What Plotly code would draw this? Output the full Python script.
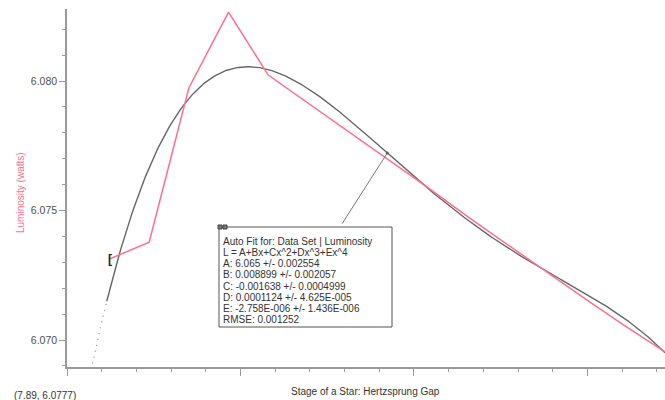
import numpy as np
import plotly.graph_objects as go

# Data set: luminosity at each stage step
stage = [1, 2, 3, 4, 5, 6, 7, 8, 9, 10, 11, 12, 13, 14, 15]
luminosity = [6.07313, 6.07378, 6.07973, 6.08266, 6.08023, 6.07915, 6.07807,
              6.07699, 6.07591, 6.07479, 6.07371, 6.07266, 6.07158, 6.07054,
              6.06954]

# Quartic auto fit  L = A + Bx + Cx^2 + Dx^3 + Ex^4
coef_names = ["A", "B", "C", "D", "E"]
coef_values = [6.06455, 0.008899, -0.00163751, 0.000112449, -2.75751e-6]
coef_errors = [0.002554, 0.002057, 0.0004999, 4.625e-5, 1.436e-6]
rmse = 0.001252
fit_range_start = 0.93
leader_x = 8.0
cursor_readout = (7.89, 6.0777)

x_title = "Stage of a Star: Hertzsprung Gap"
y_title = "Luminosity (watts)"

RED = "#ff6f8c"
FIT = "#666666"
AXIS = "#9a9a9a"
TEXT = "#333333"
FONT = "Liberation Sans, Arial, sans-serif"

# page geometry
W, H = 665, 400
ML, MR, MT, MB = 67, 0, 9, 33
PW, PH = W - ML - MR, H - MT - MB


def px_x(p):
    return (p - ML) / PW


def px_y(p):
    return (H - MB - p) / PH


def fmt(v):
    """Four significant digits, small values in E-00N notation."""
    if v != 0 and abs(v) < 1e-4:
        mant, exp = f"{v:.3E}".split("E")
        return f"{mant}E{exp[0]}{int(exp[1:]):03d}"
    return f"{v:.4g}"


def fit(x):
    return np.polynomial.polynomial.polyval(x, coef_values)


x_fit = np.linspace(fit_range_start, stage[-1], 400)
x_ext = np.linspace(0.0, fit_range_start, 60)

fig = go.Figure()

# extrapolated part of the fit (dotted)
fig.add_trace(go.Scatter(x=x_ext, y=fit(x_ext), mode="lines",
                         line=dict(color="#8a8a8a", width=1.2, dash="1px,5px"),
                         hoverinfo="skip"))
# fitted curve over the fit range
fig.add_trace(go.Scatter(x=x_fit, y=fit(x_fit), mode="lines",
                         line=dict(color=FIT, width=1.4), hoverinfo="skip"))
# measured luminosity
fig.add_trace(go.Scatter(x=stage, y=luminosity, mode="lines",
                         line=dict(color=RED, width=1.5)))
# anchor point of the fit-info leader
fig.add_trace(go.Scatter(x=[leader_x], y=[fit(leader_x)], mode="markers",
                         marker=dict(color="#555555", size=3),
                         hoverinfo="skip"))

x_lo, x_hi = -0.071, 15.0
fig.update_xaxes(range=[x_lo, x_hi], showline=True, linecolor=AXIS,
                 linewidth=1.5, showgrid=False, zeroline=False,
                 showticklabels=False, ticks="outside", ticklen=7,
                 tickwidth=1, tickcolor=AXIS, tick0=x_lo, dtick=4.372,
                 minor=dict(ticks="outside", ticklen=3, tickcolor=AXIS,
                            tick0=x_lo, dtick=0.8745, showgrid=False),
                 automargin=False)
fig.update_yaxes(range=[6.06896, 6.08278], showline=True, linecolor=AXIS,
                 linewidth=1.5, showgrid=False, zeroline=False,
                 ticks="outside", ticklen=6, tickwidth=1, tickcolor=AXIS,
                 tick0=6.07, dtick=0.005, tickformat=".3f",
                 tickfont=dict(size=10.5, color="#505050"),
                 minor=dict(ticks="outside", ticklen=3, tickcolor=AXIS,
                            dtick=0.001, showgrid=False),
                 automargin=False)

annotations = []

# axis titles and cursor readout
annotations.append(dict(x=px_x(365), y=px_y(391), xref="paper", yref="paper",
                        xanchor="center", yanchor="middle",
                        text=x_title, showarrow=False,
                        font=dict(size=10, color=TEXT)))
annotations.append(dict(x=px_x(20), y=px_y(193), xref="paper", yref="paper",
                        xanchor="center", yanchor="middle",
                        text=y_title, showarrow=False, textangle=-90,
                        font=dict(size=10, color=RED)))
annotations.append(dict(x=px_x(12), y=px_y(395), xref="paper", yref="paper",
                        xanchor="left", yanchor="middle", showarrow=False,
                        text=f"({cursor_readout[0]}, {cursor_readout[1]})",
                        font=dict(size=10, color=TEXT)))

# fit range start bracket
annotations.append(dict(x=fit_range_start, y=luminosity[0], xref="x",
                        yref="y", xanchor="left", xshift=-1,
                        text="<b>[</b>", showarrow=False,
                        font=dict(size=12, color="#222222")))

# leader from the info box to the curve
annotations.append(dict(x=leader_x, y=fit(leader_x), xref="x", yref="y",
                        text="", showarrow=True, arrowhead=0, arrowwidth=1,
                        arrowcolor="#777777", ax=-46, ay=72,
                        font=dict(size=1)))

# fit information box
box_lines = ["Auto Fit for: Data Set | Luminosity",
             "L = A+Bx+Cx^2+Dx^3+Ex^4"]
for name, val, err in zip(coef_names, coef_values, coef_errors):
    box_lines.append(f"{name}: {fmt(val)} +/- {fmt(err)}")
box_lines.append(f"RMSE: {fmt(rmse)}")

for i, line in enumerate(box_lines):
    annotations.append(dict(x=px_x(221), y=px_y(241.5 + i * 11.15),
                            xref="paper", yref="paper", xanchor="left",
                            yanchor="middle", text=line, showarrow=False,
                            font=dict(size=10, color=TEXT)))

shapes = [
    dict(type="rect", xref="paper", yref="paper",
         x0=px_x(219), x1=px_x(392), y0=px_y(327), y1=px_y(227),
         line=dict(color="#555555", width=1), fillcolor="white"),
    dict(type="rect", xref="paper", yref="paper",
         x0=px_x(218), x1=px_x(222), y0=px_y(229), y1=px_y(225),
         line=dict(color="#444444", width=1), fillcolor="#777777"),
    dict(type="rect", xref="paper", yref="paper",
         x0=px_x(223), x1=px_x(227), y0=px_y(229), y1=px_y(225),
         line=dict(color="#444444", width=1), fillcolor="#777777"),
]

fig.update_layout(
    width=W, height=H,
    margin=dict(l=ML, r=MR, t=MT, b=MB, pad=0),
    paper_bgcolor="white", plot_bgcolor="white",
    font=dict(family=FONT, color=TEXT),
    showlegend=False,
    annotations=annotations,
    shapes=shapes,
)

fig.write_html("out.html")
